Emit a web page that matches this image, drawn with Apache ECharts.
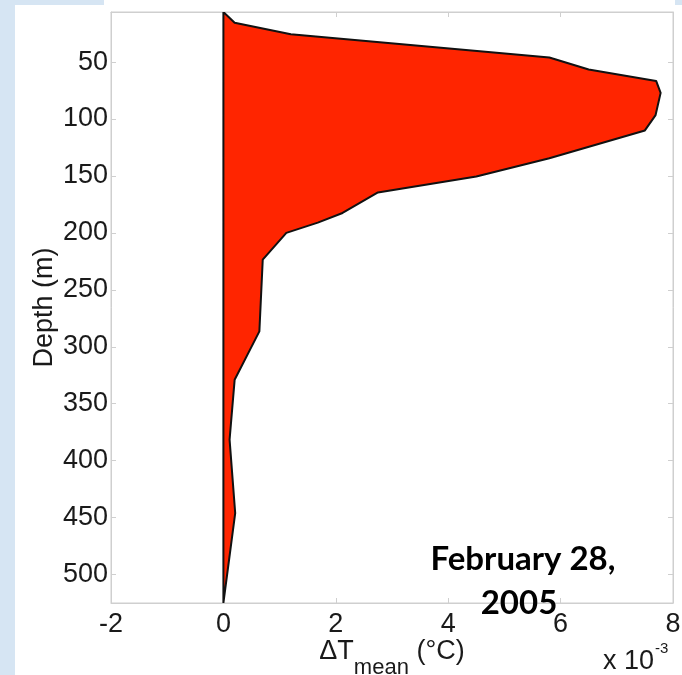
<!DOCTYPE html>
<html>
<head>
<meta charset="utf-8">
<script src="https://cdn.jsdelivr.net/npm/echarts@6/dist/echarts.min.js"></script>
<style>
html,body{margin:0;padding:0;background:#d6e5f3;}
#chart{width:682px;height:675px;}
</style>
</head>
<body>
<div id="chart"></div>
<script>
// Depth (m) of each profile vertex, top to bottom
var depth = [6, 15.5, 25.5, 46, 56.5, 66.5, 77, 96.5, 110, 134.5, 150.5, 164.5, 182.5, 191, 200, 223.5, 286.5, 329, 381.5, 446, 525];
// Delta T mean (units of 1e-3 °C) at each depth
var dTmean = [0, 0.2, 1.2, 5.8, 6.5, 7.7, 7.78, 7.69, 7.5, 5.8, 4.5, 2.75, 2.12, 1.68, 1.12, 0.70, 0.64, 0.20, 0.11, 0.21, 0];
// Tick labels
var xTicks = [-2, 0, 2, 4, 6, 8];
var yTicks = [50, 100, 150, 200, 250, 300, 350, 400, 450, 500];

var chart = echarts.init(document.getElementById('chart'), null, {renderer: 'canvas'});
var gray = '#cfcfcf';
var labelFont = 'Liberation Sans';

var option = {
  animation: false,
  backgroundColor: '#d6e5f3',
  graphic: [
    {type: 'rect', z: -10, shape: {x: 15, y: 5, width: 667, height: 670}, style: {fill: '#ffffff'}},
    {type: 'rect', z: -10, shape: {x: 104, y: 0, width: 571, height: 5}, style: {fill: '#ffffff'}},
    {type: 'text', z: 10, left: 603, top: 648, style: {text: 'x 10', font: '27px "Liberation Sans"', fill: '#1a1a1a'}},
    {type: 'text', z: 10, left: 655, top: 641, style: {text: '-3', font: '15px "Liberation Sans"', fill: '#1a1a1a'}},
    {type: 'text', z: 20, x: 523, y: 559, style: {text: 'February 28,', font: 'bold 33px Lato', fill: '#000', textAlign: 'center', textVerticalAlign: 'middle'}},
    {type: 'text', z: 20, x: 519, y: 603, style: {text: '2005', font: 'bold 33px Lato', fill: '#000', textAlign: 'center', textVerticalAlign: 'middle'}}
  ],
  grid: {left: 111, right: 9, top: 12, bottom: 72, outerBoundsMode: 'none', containLabel: false, show: true, backgroundColor: '#fff', borderColor: gray, borderWidth: 1},
  xAxis: [
    {
      type: 'value', min: xTicks[0], max: xTicks[xTicks.length - 1], interval: 2, position: 'bottom',
      axisLine: {show: true, onZero: false, lineStyle: {color: gray}},
      axisTick: {show: true, inside: true, length: 5, lineStyle: {color: gray}},
      splitLine: {show: false},
      axisLabel: {fontSize: 27, fontFamily: labelFont, color: '#1a1a1a', margin: 8},
      name: '{a|ΔT}{b|mean}{a| (°C)}',
      nameLocation: 'middle', nameGap: 35, nameMoveOverlap: false,
      nameTextStyle: {
        rich: {
          a: {fontSize: 27, fontFamily: labelFont, color: '#1a1a1a', verticalAlign: 'top', lineHeight: 28},
          b: {fontSize: 22, fontFamily: labelFont, color: '#1a1a1a', verticalAlign: 'top', lineHeight: 24, padding: [19, 0, 0, 0]}
        }
      }
    },
    {
      type: 'value', min: xTicks[0], max: xTicks[xTicks.length - 1], interval: 2, position: 'top',
      axisLine: {show: true, onZero: false, lineStyle: {color: gray}},
      axisTick: {show: true, inside: true, length: 5, lineStyle: {color: gray}},
      splitLine: {show: false}, axisLabel: {show: false}
    }
  ],
  yAxis: [
    {
      type: 'value', inverse: true, min: depth[0], max: depth[depth.length - 1], position: 'left',
      axisLine: {show: true, onZero: false, lineStyle: {color: gray}},
      axisTick: {show: true, inside: true, length: 5, lineStyle: {color: gray}, customValues: yTicks},
      splitLine: {show: false},
      axisLabel: {fontSize: 27, fontFamily: labelFont, color: '#1a1a1a', margin: 3, customValues: yTicks, showMinLabel: true, showMaxLabel: true},
      name: 'Depth (m)', nameLocation: 'middle', nameRotate: 90, nameGap: 53, nameMoveOverlap: false,
      nameTextStyle: {fontSize: 27, fontFamily: labelFont, color: '#1a1a1a'}
    },
    {
      type: 'value', inverse: true, min: depth[0], max: depth[depth.length - 1], position: 'right',
      axisLine: {show: true, onZero: false, lineStyle: {color: gray}},
      axisTick: {show: true, inside: true, length: 5, lineStyle: {color: gray}, customValues: yTicks},
      splitLine: {show: false}, axisLabel: {show: false}
    }
  ],
  series: [{
    type: 'custom',
    xAxisIndex: 0, yAxisIndex: 0,
    clip: true,
    data: [[0, depth[0]]],
    renderItem: function (params, api) {
      var pts = dTmean.map(function (v, i) { return api.coord([v, depth[i]]); });
      return {
        type: 'polygon',
        shape: {points: pts},
        style: {fill: '#ff2500', stroke: '#111111', lineWidth: 2, lineJoin: 'round'}
      };
    }
  }]
};
chart.setOption(option);
</script>
</body>
</html>
